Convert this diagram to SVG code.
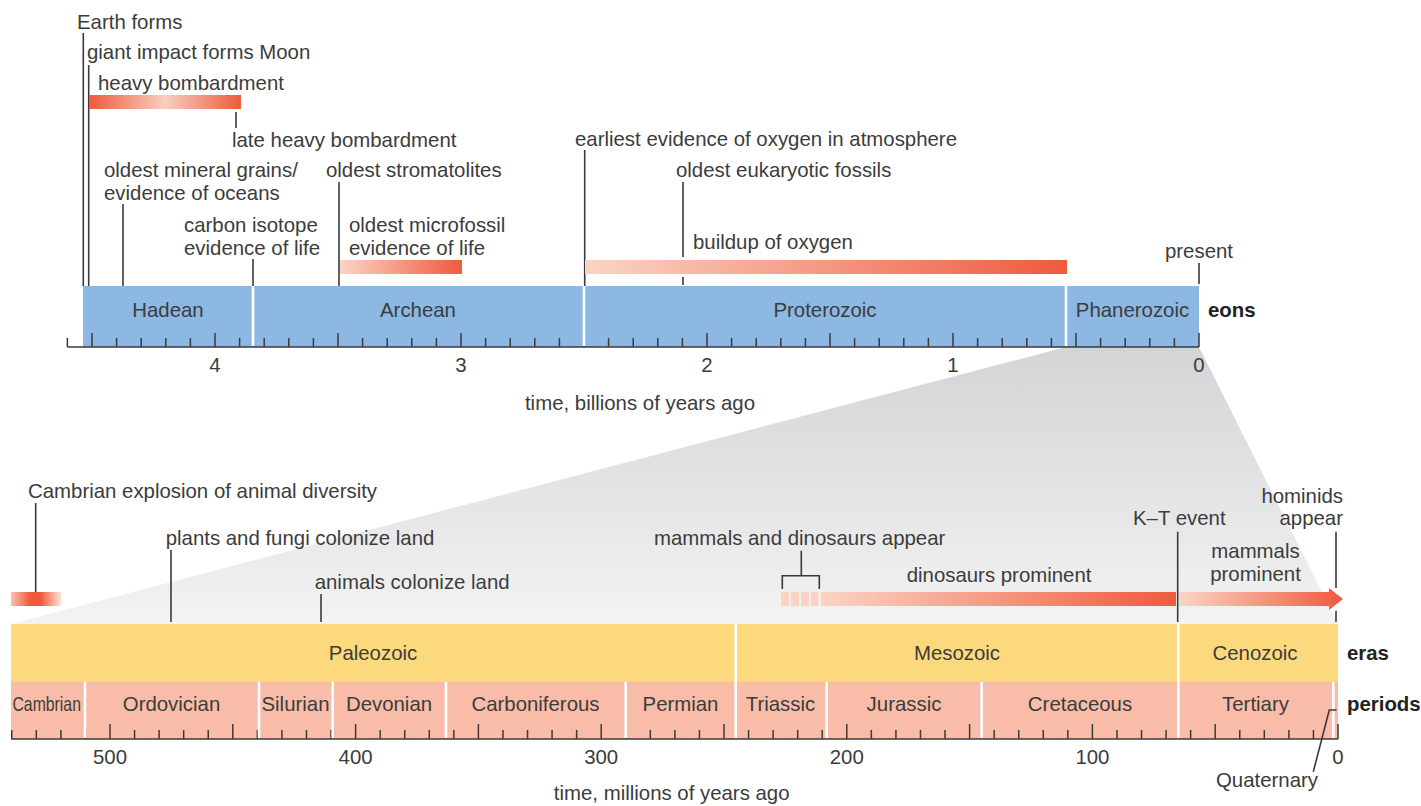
<svg xmlns="http://www.w3.org/2000/svg" width="1421" height="806" viewBox="0 0 1421 806">
<style>
.t{font-family:"Liberation Sans",Arial,Helvetica,sans-serif;font-size:20.4px;fill:#3c3c3c}
.m{text-anchor:middle}
.e{text-anchor:end}
.b{font-weight:bold;fill:#222}
.ln{stroke:#3a3a3a;stroke-width:1.6;fill:none}
.tick{stroke:#3a3a3a;stroke-width:1.5;fill:none}
.sep{stroke:#ffffff;stroke-width:2.6}
.eon{fill:#8cb8e3}
.era{fill:#fdd97e}
.per{fill:#f9bca8}
</style>
<defs>
<linearGradient id="gFun" x1="0" y1="0" x2="0" y2="1">
<stop offset="0" stop-color="#d3d4d6"/>
<stop offset="1" stop-color="#f3f3f3"/>
</linearGradient>
<linearGradient id="gHB" x1="0" y1="0" x2="1" y2="0">
<stop offset="0" stop-color="#ee5a3d"/>
<stop offset="0.5" stop-color="#f9cebf"/>
<stop offset="1" stop-color="#ee5a3d"/>
</linearGradient>
<linearGradient id="gUp" x1="0" y1="0" x2="1" y2="0">
<stop offset="0" stop-color="#fbd4c5"/>
<stop offset="1" stop-color="#ef5a3e"/>
</linearGradient>
<linearGradient id="gCam" x1="0" y1="0" x2="1" y2="0">
<stop offset="0" stop-color="#f8c3b1"/>
<stop offset="0.38" stop-color="#ef5a3e"/>
<stop offset="0.6" stop-color="#ef5a3e"/>
<stop offset="1" stop-color="#fde4db"/>
</linearGradient>
</defs>

<!-- zoom funnel -->
<polygon id="funnel" points="1066,347 1199,347 1338,624 11,624" fill="url(#gFun)"/>

<!-- top eon bar -->
<g id="eon-bar">
<rect class="eon" x="83" y="286" width="1116" height="61"/>
<path class="tick" d="M67.4,347V338M92,347V333M116.6,347V338M141.2,347V338M165.8,347V338M190.4,347V338M215,347V333M239.6,347V338M264.2,347V338M288.8,347V338M313.4,347V338M338,347V333M362.6,347V338M387.2,347V338M411.8,347V338M436.4,347V338M461,347V333M485.6,347V338M510.2,347V338M534.8,347V338M559.4,347V338M584,347V333M608.6,347V338M633.2,347V338M657.8,347V338M682.4,347V338M707,347V333M731.6,347V338M756.2,347V338M780.8,347V338M805.4,347V338M830,347V333M854.6,347V338M879.2,347V338M903.8,347V338M928.4,347V338M953,347V333M977.6,347V338M1002.2,347V338M1026.8,347V338M1051.4,347V338M1076,347V333M1100.6,347V338M1125.2,347V338M1149.8,347V338M1174.4,347V338M1199,347V333"/>
<line class="sep" x1="253" y1="286" x2="253" y2="346"/>
<line class="sep" x1="584" y1="286" x2="584" y2="346"/>
<line class="sep" x1="1066" y1="286" x2="1066" y2="346"/>
<line x1="67.4" y1="347" x2="1199" y2="347" stroke="#3a3a3a" stroke-width="1.6"/>
</g>
<g id="eon-hadean"><text class="t m" x="168" y="317">Hadean</text></g>
<g id="eon-archean"><text class="t m" x="418" y="317">Archean</text></g>
<g id="eon-proterozoic"><text class="t m" x="825" y="317">Proterozoic</text></g>
<g id="eon-phanerozoic"><text class="t m" x="1132.5" y="317">Phanerozoic</text></g>
<g id="label-eons"><text class="t b" x="1208" y="317">eons</text></g>
<g id="axis-top-labels">
<text class="t m" x="215" y="372">4</text>
<text class="t m" x="461" y="372">3</text>
<text class="t m" x="707" y="372">2</text>
<text class="t m" x="953" y="372">1</text>
<text class="t m" x="1199" y="372">0</text>
<text class="t m" x="640" y="410">time, billions of years ago</text>
</g>

<!-- bottom era / period bars -->
<g id="era-bar">
<rect class="era" x="11" y="624" width="1327" height="58"/>
<rect class="per" x="11" y="682" width="1327" height="57"/>
<path class="tick" d="M11.76,739V730M36.32,739V730M60.88,739V730M85.44,739V730M110,739V724M134.56,739V730M159.12,739V730M183.68,739V730M208.24,739V730M232.8,739V724M257.36,739V730M281.92,739V730M306.48,739V730M331.04,739V730M355.6,739V724M380.16,739V730M404.72,739V730M429.28,739V730M453.84,739V730M478.4,739V724M502.96,739V730M527.52,739V730M552.08,739V730M576.64,739V730M601.2,739V724M625.76,739V730M650.32,739V730M674.88,739V730M699.44,739V730M724,739V724M748.56,739V730M773.12,739V730M797.68,739V730M822.24,739V730M846.8,739V724M871.36,739V730M895.92,739V730M920.48,739V730M945.04,739V730M969.6,739V724M994.16,739V730M1018.72,739V730M1043.28,739V730M1067.84,739V730M1092.4,739V724M1116.96,739V730M1141.52,739V730M1166.08,739V730M1190.64,739V730M1215.2,739V724M1239.76,739V730M1264.32,739V730M1288.88,739V730M1313.44,739V730M1338,739V724"/>
<line class="sep" x1="735.7" y1="624" x2="735.7" y2="738"/>
<line class="sep" x1="1178.3" y1="624" x2="1178.3" y2="738"/>
<line class="sep" x1="85" y1="682" x2="85" y2="738"/>
<line class="sep" x1="259" y1="682" x2="259" y2="738"/>
<line class="sep" x1="332.7" y1="682" x2="332.7" y2="738"/>
<line class="sep" x1="446" y1="682" x2="446" y2="738"/>
<line class="sep" x1="625.7" y1="682" x2="625.7" y2="738"/>
<line class="sep" x1="826.7" y1="682" x2="826.7" y2="738"/>
<line class="sep" x1="981.7" y1="682" x2="981.7" y2="738"/>
<line class="sep" x1="1333.3" y1="682" x2="1333.3" y2="738"/>
<line x1="11" y1="739" x2="1338" y2="739" stroke="#3a3a3a" stroke-width="1.6"/>
</g>
<g id="era-paleozoic"><text class="t m" x="373" y="660">Paleozoic</text></g>
<g id="era-mesozoic"><text class="t m" x="957" y="660">Mesozoic</text></g>
<g id="era-cenozoic"><text class="t m" x="1255" y="660">Cenozoic</text></g>
<g id="label-eras"><text class="t b" x="1347" y="660">eras</text></g>
<g id="per-cambrian"><text class="t m" x="46.7" y="711" textLength="68.5" lengthAdjust="spacingAndGlyphs">Cambrian</text></g>
<g id="per-ordovician"><text class="t m" x="171.5" y="711">Ordovician</text></g>
<g id="per-silurian"><text class="t m" x="295.5" y="711">Silurian</text></g>
<g id="per-devonian"><text class="t m" x="389" y="711">Devonian</text></g>
<g id="per-carboniferous"><text class="t m" x="535.5" y="711">Carboniferous</text></g>
<g id="per-permian"><text class="t m" x="680.5" y="711">Permian</text></g>
<g id="per-triassic"><text class="t m" x="780.5" y="711">Triassic</text></g>
<g id="per-jurassic"><text class="t m" x="904" y="711">Jurassic</text></g>
<g id="per-cretaceous"><text class="t m" x="1080" y="711">Cretaceous</text></g>
<g id="per-tertiary"><text class="t m" x="1255.5" y="711">Tertiary</text></g>
<g id="per-quaternary"><text class="t" x="1216" y="787">Quaternary</text></g>
<g id="label-periods"><text class="t b" x="1347" y="711">periods</text></g>
<g id="axis-bottom-labels">
<text class="t m" x="110" y="764">500</text>
<text class="t m" x="355.6" y="764">400</text>
<text class="t m" x="601.2" y="764">300</text>
<text class="t m" x="846.8" y="764">200</text>
<text class="t m" x="1092.4" y="764">100</text>
<text class="t m" x="1338" y="764">0</text>
<text class="t m" x="671.7" y="800">time, millions of years ago</text>
</g>

<!-- connectors (leader lines) -->
<g id="connectors">
<line class="ln" x1="83.3" y1="33" x2="83.3" y2="286"/>
<line class="ln" x1="88.7" y1="65" x2="88.7" y2="286"/>
<line class="ln" x1="236" y1="112" x2="236" y2="128"/>
<line class="ln" x1="123" y1="204" x2="123" y2="286"/>
<line class="ln" x1="339" y1="182" x2="339" y2="286"/>
<line class="ln" x1="253" y1="259" x2="253" y2="286"/>
<line class="ln" x1="584.7" y1="150" x2="584.7" y2="286"/>
<line class="ln" x1="683" y1="182" x2="683" y2="257"/>
<line class="ln" x1="683" y1="277" x2="683" y2="285"/>
<line class="ln" x1="1199" y1="263" x2="1199" y2="284"/>
<line class="ln" x1="35.7" y1="503" x2="35.7" y2="598"/>
<line class="ln" x1="171" y1="550" x2="171" y2="622"/>
<line class="ln" x1="321" y1="594" x2="321" y2="622"/>
<path class="ln" d="M801.3,550.7V575.7M782.3,589V575.7H819.3V589"/>
<line class="ln" x1="1177.7" y1="531.7" x2="1177.7" y2="622"/>
<line class="ln" x1="1336" y1="531.7" x2="1336" y2="588"/>
<line class="ln" x1="1336" y1="610.7" x2="1336" y2="622"/>
<path class="ln" d="M1313.3,771.7L1329.3,710H1336.5"/>
</g>

<!-- top events -->
<g id="ev-earth-forms"><text class="t" x="77" y="29">Earth forms</text></g>
<g id="ev-moon"><text class="t" x="87" y="59">giant impact forms Moon</text></g>
<g id="ev-heavy-bombardment">
<text class="t" x="98" y="90">heavy bombardment</text>
<rect x="89" y="95" width="152" height="14" fill="url(#gHB)"/>
</g>
<g id="ev-late-heavy"><text class="t" x="232" y="147">late heavy bombardment</text></g>
<g id="ev-mineral-grains"><text class="t" x="104" y="177">oldest mineral grains/</text><text class="t" x="104" y="200">evidence of oceans</text></g>
<g id="ev-stromatolites"><text class="t" x="326" y="177">oldest stromatolites</text></g>
<g id="ev-carbon-isotope"><text class="t" x="184" y="232">carbon isotope</text><text class="t" x="184" y="255">evidence of life</text></g>
<g id="ev-microfossil">
<text class="t" x="349" y="232">oldest microfossil</text><text class="t" x="349" y="255">evidence of life</text>
<rect x="340" y="260" width="122" height="14" fill="url(#gUp)"/>
</g>
<g id="ev-oxygen-earliest"><text class="t" x="575" y="146">earliest evidence of oxygen in atmosphere</text></g>
<g id="ev-eukaryotic"><text class="t" x="676" y="177">oldest eukaryotic fossils</text></g>
<g id="ev-oxygen-buildup">
<text class="t" x="693" y="249">buildup of oxygen</text>
<rect x="585" y="260" width="482" height="14" fill="url(#gUp)"/>
</g>
<g id="ev-present"><text class="t m" x="1199" y="258">present</text></g>

<!-- bottom events -->
<g id="ev-cambrian-explosion">
<text class="t" x="28" y="498">Cambrian explosion of animal diversity</text>
<rect x="11" y="592" width="50" height="14" fill="url(#gCam)"/>
</g>
<g id="ev-plants"><text class="t" x="165.7" y="545">plants and fungi colonize land</text></g>
<g id="ev-animals"><text class="t" x="314.7" y="589">animals colonize land</text></g>
<g id="ev-mammals-dinos-appear">
<text class="t" x="654" y="545">mammals and dinosaurs appear</text>
<g fill="#fbd3c4">
<rect x="781" y="592" width="8" height="14"/>
<rect x="791" y="592" width="8" height="14"/>
<rect x="801" y="592" width="8" height="14"/>
<rect x="811" y="592" width="7.5" height="14"/>
</g>
</g>
<g id="ev-dinosaurs">
<text class="t" x="906.7" y="582">dinosaurs prominent</text>
<rect x="821" y="592" width="355" height="14" fill="url(#gUp)"/>
</g>
<g id="ev-kt"><text class="t" x="1133" y="525">K–T event</text></g>
<g id="ev-mammals">
<text class="t m" x="1255.5" y="558">mammals</text><text class="t m" x="1255.5" y="581">prominent</text>
<polygon points="1179,592 1329,592 1329,588 1343,599 1329,610 1329,606 1179,606" fill="url(#gUp)"/>
</g>
<g id="ev-hominids"><text class="t e" x="1343" y="503">hominids</text><text class="t e" x="1343" y="525">appear</text></g>
</svg>
